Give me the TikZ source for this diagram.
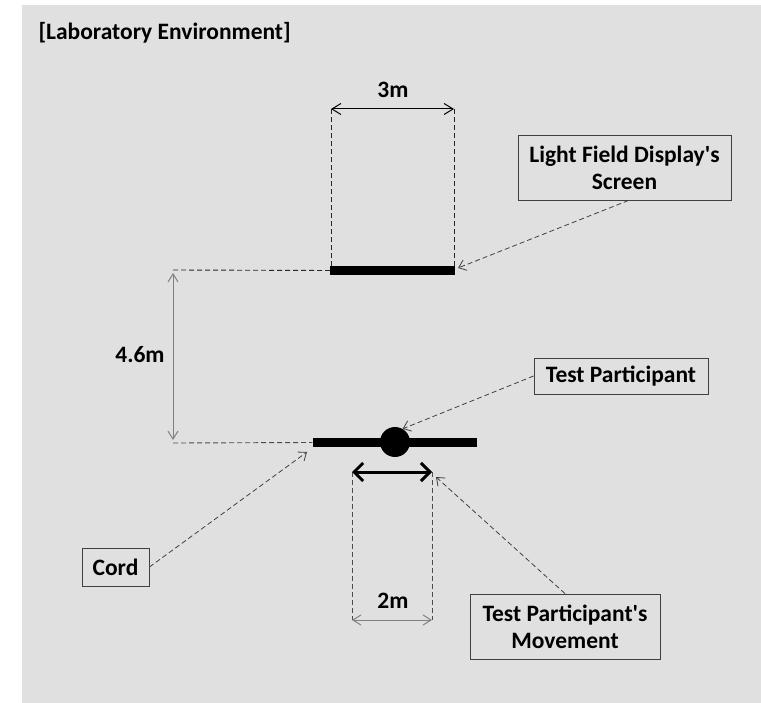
\documentclass[tikz,border=0pt]{standalone}
\usepackage{fontspec}
\setmainfont{Carlito}[Ligatures=TeXOff]
\usetikzlibrary{arrows.meta}
\definecolor{bg}{HTML}{E0E0E0}
\definecolor{lead}{HTML}{404040}
\begin{document}
\begin{tikzpicture}[x=1pt,y=-1pt,
  font=\bfseries\fontsize{23.5}{27}\selectfont,
  lbl/.style={draw=black!75, fill=bg, line width=0.9pt, inner sep=2pt, align=center},
  bar/.style={fill=black, inner sep=0pt, draw=none},
  guide/.style={draw=black!85, line width=0.9pt, dash pattern=on 5pt off 3pt},
  leader/.style={draw=lead, line width=0.8pt, dash pattern=on 5pt off 3pt, -{Straight Barb[length=7pt,width=11pt]}},
  dimblack/.style={draw=black, line width=1pt, {Straight Barb[length=9pt,width=11pt]}-{Straight Barb[length=9pt,width=11pt]}},
  dimgray/.style={draw=black!50, line width=1pt, {Straight Barb[length=8pt,width=10pt]}-{Straight Barb[length=8pt,width=10pt]}},
  move/.style={draw=black, line width=3pt, {Straight Barb[length=9pt,width=18pt]}-{Straight Barb[length=9pt,width=18pt]}}
]
\useasboundingbox (0,0) rectangle (761,703);
\fill[white] (0,0) rectangle (761,703);
\fill[bg] (22,5) rectangle (761,703);

\node[anchor=west] (title) at (35,33) {[Laboratory Environment]};

% screen
\node[bar, minimum width=125pt, minimum height=9pt] (screen) at (392.5,270.5) {};
\coordinate (s3l) at (331,109);
\coordinate (s3r) at (454,109);
\coordinate (s3lb) at (331,266);
\coordinate (s3rb) at (454,266);
\draw[guide] (s3l) -- (s3lb);
\draw[guide] (s3r) -- (s3rb);
\draw[dimblack] (s3l) -- (s3r);
\node (l3m) at (393,90) {3m};

% cord and participant
\node[bar, minimum width=164pt, minimum height=9pt] (cordbar) at (394.5,442.5) {};
\node[circle, fill=black, inner sep=0pt, minimum size=30pt] (part) at (395,442) {};

% 4.6m
\coordinate (ht) at (173,270);
\coordinate (hb) at (173,443);
\coordinate (vt) at (173,273);
\coordinate (vb) at (173,440);
\draw[guide] (ht) -- (screen.west);
\draw[guide, draw=black!70] (hb) -- (cordbar.west);
\draw[dimgray] (vt) -- (vb);
\node (l46) at (140,355) {4.6m};

% movement
\coordinate (m1) at (352,472);
\coordinate (m2) at (432,472);
\coordinate (m1b) at (352,620);
\coordinate (m2b) at (432,620);
\draw[guide, draw=black!70] (m1) -- (m1b);
\draw[guide, draw=black!70] (m2) -- (m2b);
\draw[move] (m1) -- (m2);
\draw[dimgray] (m1b) -- (m2b);
\node (l2m) at (393,601) {2m};

% label boxes
\node[lbl, minimum width=213pt, minimum height=65pt] (lfd) at (624.5,167.5) {Light Field Display's\\Screen};
\node[lbl, minimum width=174pt, minimum height=36pt] (tp) at (621,376) {Test Participant};
\node[lbl, minimum width=67pt, minimum height=38pt] (cord) at (115.5,567) {Cord};
\node[lbl, minimum width=190pt, minimum height=65pt] (mov) at (565,626.5) {Test Participant's\\Movement};

% leaders
\coordinate (tipscreen) at (458,268);
\coordinate (tipcord) at (307,452);
\coordinate (tipmov) at (436,477);
\draw[leader] ([xshift=4pt]lfd.south) -- (tipscreen);
\draw[leader] (tp.west) -- (part.60);
\draw[leader] (cord.east) -- (tipcord);
\draw[leader] (mov.north) -- (tipmov);
\end{tikzpicture}
\end{document}
